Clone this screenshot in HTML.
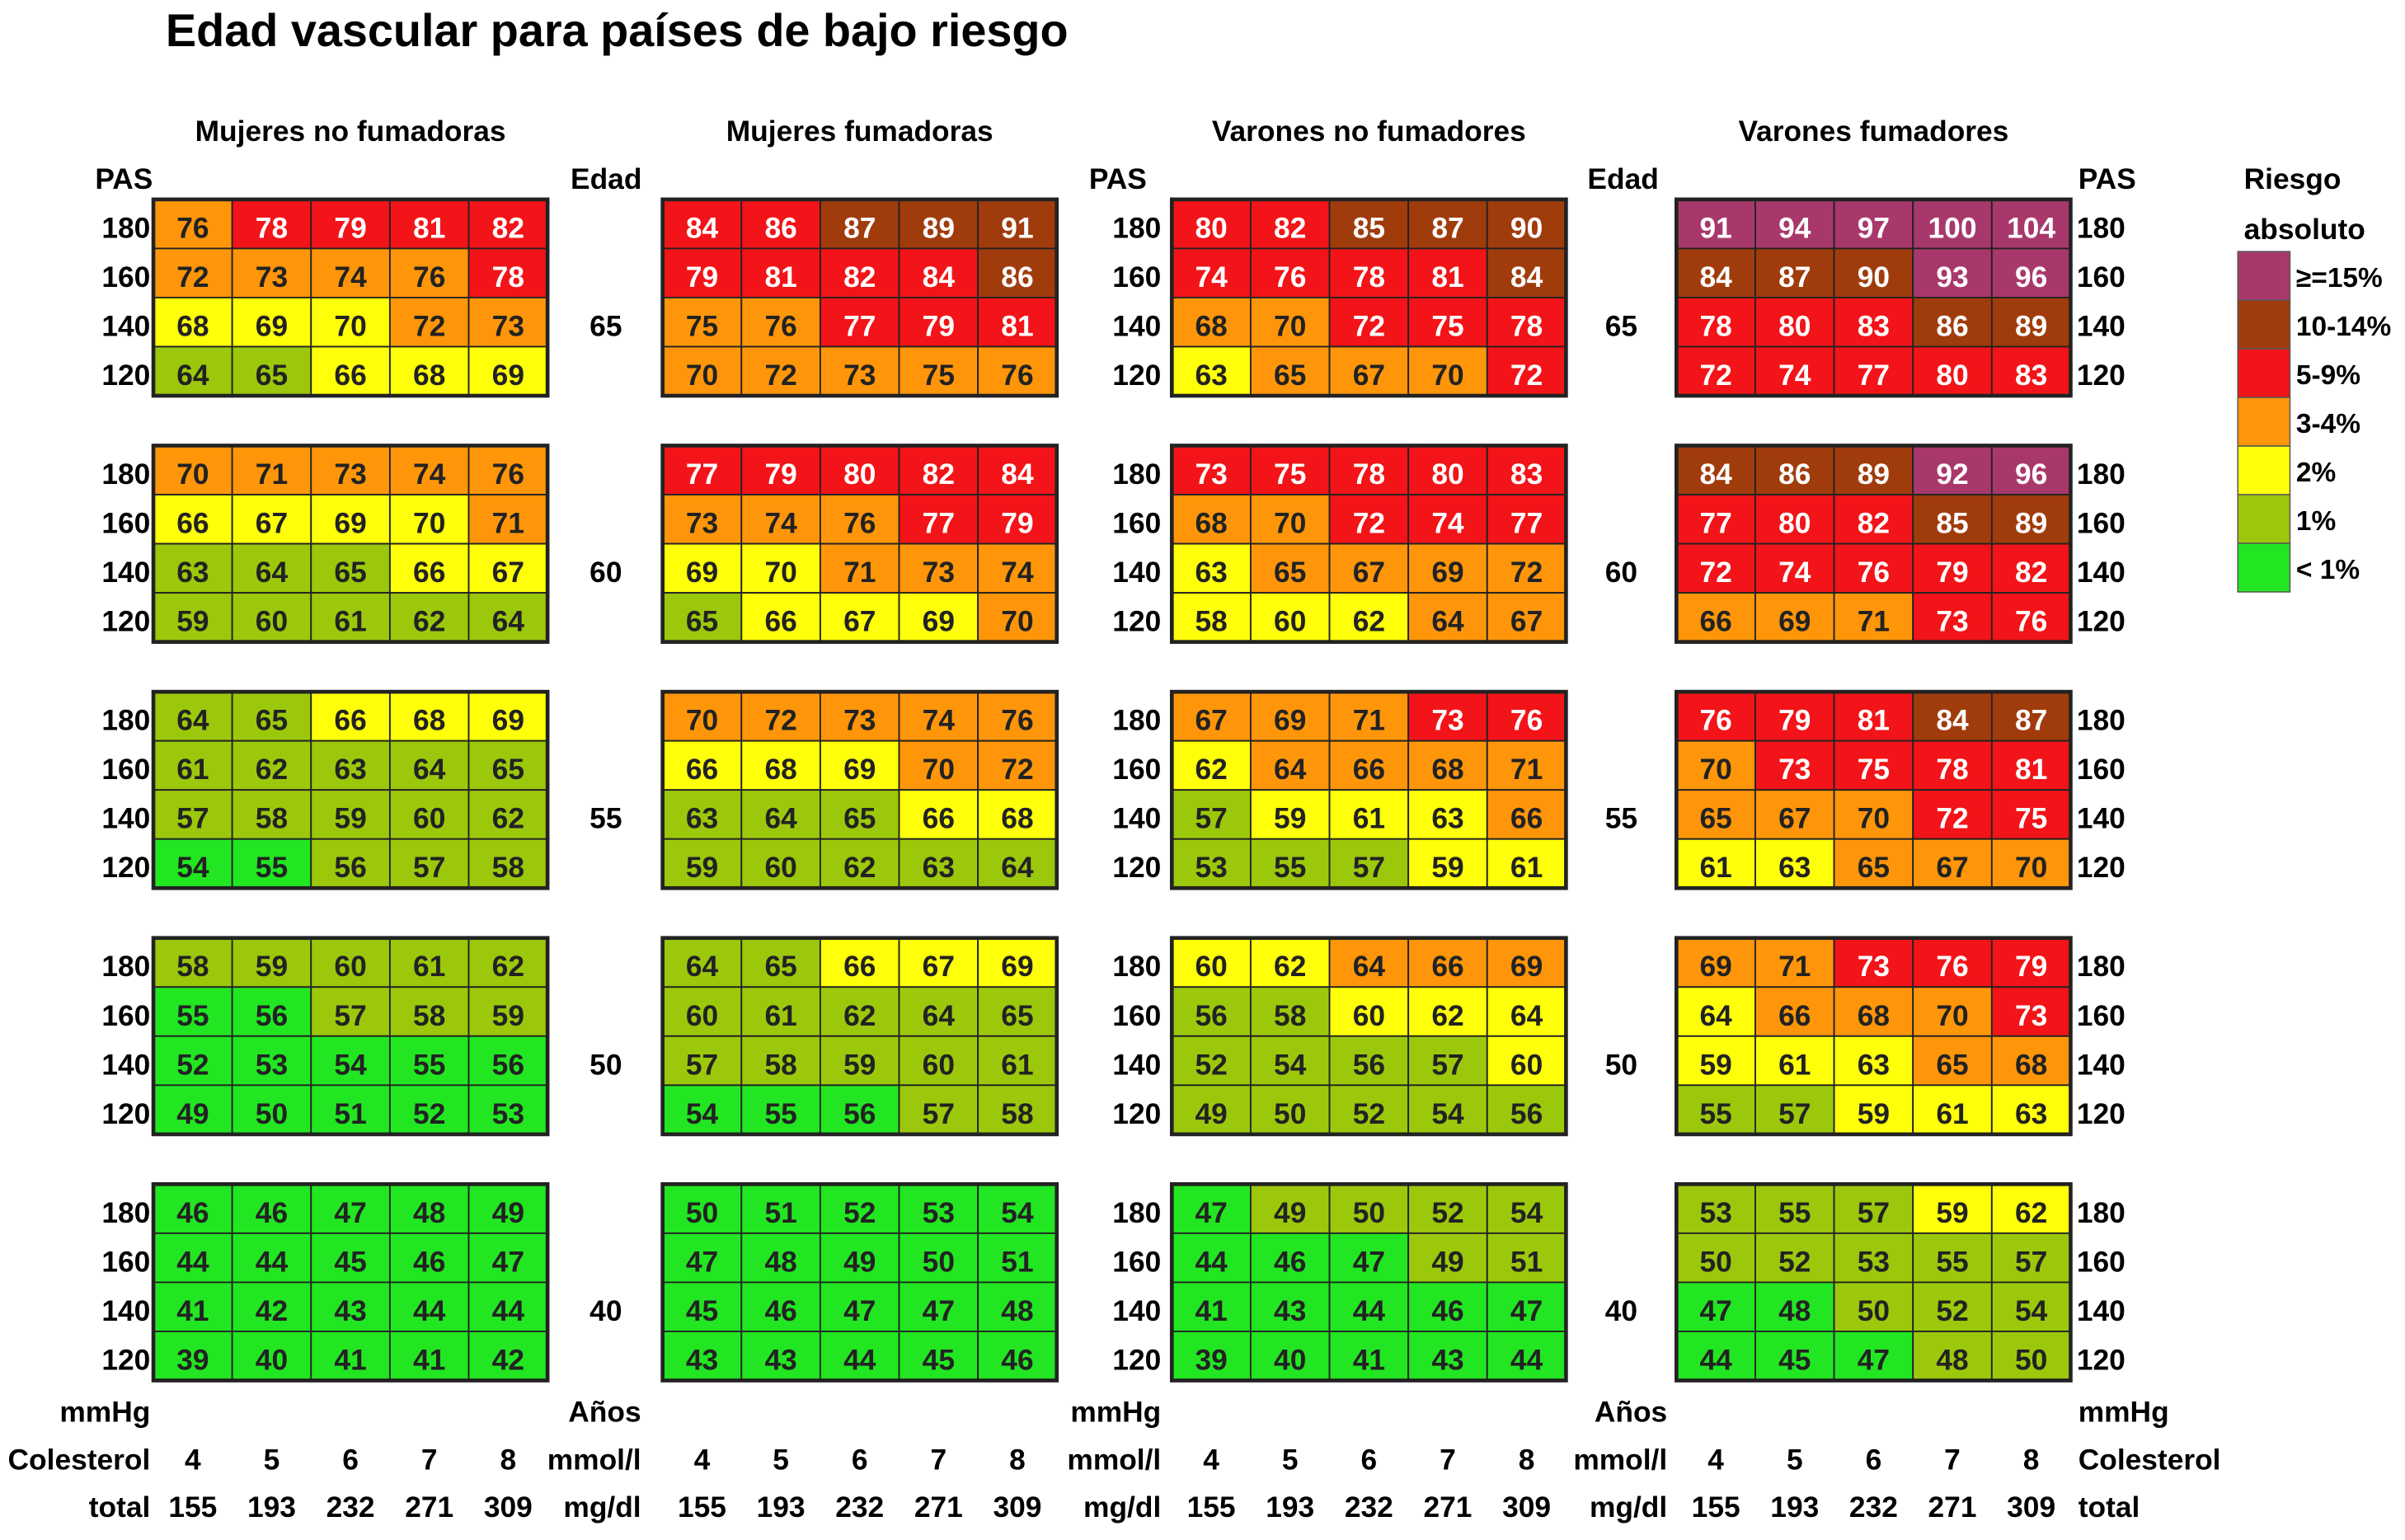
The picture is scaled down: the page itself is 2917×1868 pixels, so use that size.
<!DOCTYPE html>
<html><head><meta charset="utf-8"><style>
html,body{margin:0;padding:0;background:#fff;}
svg{display:block;}
text{font-family:"Liberation Sans",sans-serif;font-weight:bold;}
</style></head><body>
<svg id="chart" width="2917" height="1868" viewBox="0 0 1568 1004" preserveAspectRatio="none" xmlns="http://www.w3.org/2000/svg">
<text x="108" y="30" font-size="30">Edad vascular para países de bajo riesgo</text>
<g id="g"></g>
</svg>
<script>
const panelTitles=["Mujeres no fumadoras","Mujeres fumadoras","Varones no fumadores","Varones fumadores"];
const ages=["65","60","55","50","40"];
const pasLabels=["180","160","140","120"];
const cholMmol=["4","5","6","7","8"];
const cholMg=["155","193","232","271","309"];
const legendLabels=["≥=15%","10-14%","5-9%","3-4%","2%","1%","< 1%"];
const legendCats=["P","B","R","O","Y","G","L"];
const valuesP1=[[76,78,79,81,82,72,73,74,76,78,68,69,70,72,73,64,65,66,68,69],[70,71,73,74,76,66,67,69,70,71,63,64,65,66,67,59,60,61,62,64],[64,65,66,68,69,61,62,63,64,65,57,58,59,60,62,54,55,56,57,58],[58,59,60,61,62,55,56,57,58,59,52,53,54,55,56,49,50,51,52,53],[46,46,47,48,49,44,44,45,46,47,41,42,43,44,44,39,40,41,41,42]];
const catsP1=["ORRRR OOOOR YYYOO GGYYY","OOOOO YYYYO GGGYY GGGGG","GGYYY GGGGG GGGGG LLGGG","GGGGG LLGGG LLLLL LLLLL","LLLLL LLLLL LLLLL LLLLL"];
const valuesP2=[[84,86,87,89,91,79,81,82,84,86,75,76,77,79,81,70,72,73,75,76],[77,79,80,82,84,73,74,76,77,79,69,70,71,73,74,65,66,67,69,70],[70,72,73,74,76,66,68,69,70,72,63,64,65,66,68,59,60,62,63,64],[64,65,66,67,69,60,61,62,64,65,57,58,59,60,61,54,55,56,57,58],[50,51,52,53,54,47,48,49,50,51,45,46,47,47,48,43,43,44,45,46]];
const catsP2=["RRBBB RRRRB OORRR OOOOO","RRRRR OOORR YYOOO GYYYO","OOOOO YYYOO GGGYY GGGGG","GGYYY GGGGG GGGGG LLLGG","LLLLL LLLLL LLLLL LLLLL"];
const valuesP3=[[80,82,85,87,90,74,76,78,81,84,68,70,72,75,78,63,65,67,70,72],[73,75,78,80,83,68,70,72,74,77,63,65,67,69,72,58,60,62,64,67],[67,69,71,73,76,62,64,66,68,71,57,59,61,63,66,53,55,57,59,61],[60,62,64,66,69,56,58,60,62,64,52,54,56,57,60,49,50,52,54,56],[47,49,50,52,54,44,46,47,49,51,41,43,44,46,47,39,40,41,43,44]];
const catsP3=["RRBBB RRRRB OORRR YOOOR","RRRRR OORRR YOOOO YYYOO","OOORR YOOOO GYYYO GGGYY","YYOOO GGYYY GGGGY GGGGG","LGGGG LLLGG LLLLL LLLLL"];
const valuesP4=[[91,94,97,100,104,84,87,90,93,96,78,80,83,86,89,72,74,77,80,83],[84,86,89,92,96,77,80,82,85,89,72,74,76,79,82,66,69,71,73,76],[76,79,81,84,87,70,73,75,78,81,65,67,70,72,75,61,63,65,67,70],[69,71,73,76,79,64,66,68,70,73,59,61,63,65,68,55,57,59,61,63],[53,55,57,59,62,50,52,53,55,57,47,48,50,52,54,44,45,47,48,50]];
const catsP4=["PPPPP BBBPP RRRBB RRRRR","BBBPP RRRBB RRRRR OOORR","RRRBB ORRRR OOORR YYOOO","OORRR YOOOR YYYOO GGYYY","GGGYY GGGGG LLGGG LLLGG"];
const allValues=[valuesP1,valuesP2,valuesP3,valuesP4];
const allCats=[catsP1,catsP2,catsP3,catsP4];

const colors={P:"#a8386c",B:"#a03c0c",R:"#f21418",O:"#ff960a",Y:"#ffff0a",G:"#9cc80c",L:"#22e622"};
const light={P:1,B:1,R:1};
const NS="http://www.w3.org/2000/svg";
const g=document.getElementById('g');
const panelX=[100,432,764,1093], cw=51.4, rh=32, blockY0=130, blockStep=160.5;
function mk(tag,attrs,txt){const e=document.createElementNS(NS,tag);for(const k in attrs)e.setAttribute(k,attrs[k]);if(txt!==undefined)e.textContent=txt;g.appendChild(e);return e;}
function cx(c){return c*cw;}
function ry(b,r){return blockY0+b*blockStep+r*rh;}

for(let p=0;p<4;p++){
  const t=mk('text',{x:panelX[p]+cw*2.5,y:92,'font-size':19,'text-anchor':'middle'},panelTitles[p]);
  
  
  for(let b=0;b<5;b++){
    const cats=allCats[p][b].replace(/ /g,'');
    for(let r=0;r<4;r++)for(let c=0;c<5;c++){
      const i=r*5+c, k=cats[i];
      const rc=mk('rect',{x:panelX[p]+cx(c),y:ry(b,r),width:cw,height:rh,fill:colors[k],stroke:'#222','stroke-width':1});
      
      
      const tx=mk('text',{x:panelX[p]+cx(c)+cw/2,y:ry(b,r)+rh/2+9,'font-size':19,'text-anchor':'middle',fill:light[k]?'#fff':'#222'},allValues[p][b][i]);
      
      
    }
    const fr=mk('rect',{x:panelX[p],y:ry(b,0),width:cw*5,height:rh*4,fill:'none',stroke:'#222','stroke-width':2.5});
    
    
  }
}
const pasX=[[98,'end'],[757,'end'],[1354,'start']];
for(const [x,a] of pasX){
  for(let b=0;b<5;b++)for(let r=0;r<4;r++){
    const t=mk('text',{x:x,y:ry(b,r)+rh/2+9,'font-size':19,'text-anchor':a},pasLabels[r]);
    
    
  }
}
for(const x of [395,1057]){
  for(let b=0;b<5;b++){
    const t=mk('text',{x:x,y:ry(b,2)+rh/2+9,'font-size':19,'text-anchor':'middle'},ages[b]);
    
    
  }
}
const heads=[[62,'PAS','start'],[372,'Edad','start'],[710,'PAS','start'],[1035,'Edad','start'],[1355,'PAS','start']];
for(const [x,s,a] of heads){const t=mk('text',{x:x,y:123,'font-size':19,'text-anchor':a},s);
  
  }
const bottom=[[98,['mmHg','Colesterol','total']],[418,['Años','mmol/l','mg/dl']],[757,['mmHg','mmol/l','mg/dl']],[1087,['Años','mmol/l','mg/dl']]];
for(const [x,arr] of bottom){arr.forEach((s,i)=>{const t=mk('text',{x:x,y:927+i*31,'font-size':19,'text-anchor':'end'},s);
  
  });}
[['mmHg',927],['Colesterol',958],['total',989]].forEach(([s,y])=>{const t=mk('text',{x:1355,y:y,'font-size':19},s);
  
  });
for(let p=0;p<4;p++)for(let c=0;c<5;c++){
  const a=mk('text',{x:panelX[p]+cx(c)+cw/2,y:958,'font-size':19,'text-anchor':'middle'},cholMmol[c]);
  
  
  const m=mk('text',{x:panelX[p]+cx(c)+cw/2,y:989,'font-size':19,'text-anchor':'middle'},cholMg[c]);
  
  
}
[['Riesgo',123],['absoluto',156]].forEach(([s,y])=>{const t=mk('text',{x:1463,y:y,'font-size':19},s);
  
  });
legendCats.forEach((k,i)=>{
  const r=mk('rect',{x:1459,y:164+i*31.7,width:34,height:31.7,fill:colors[k],stroke:'#555','stroke-width':0.8});
  
  
  const t=mk('text',{x:1497,y:164+i*31.7+23,'font-size':18},legendLabels[i]);
  
  
});
</script>
</body></html>
